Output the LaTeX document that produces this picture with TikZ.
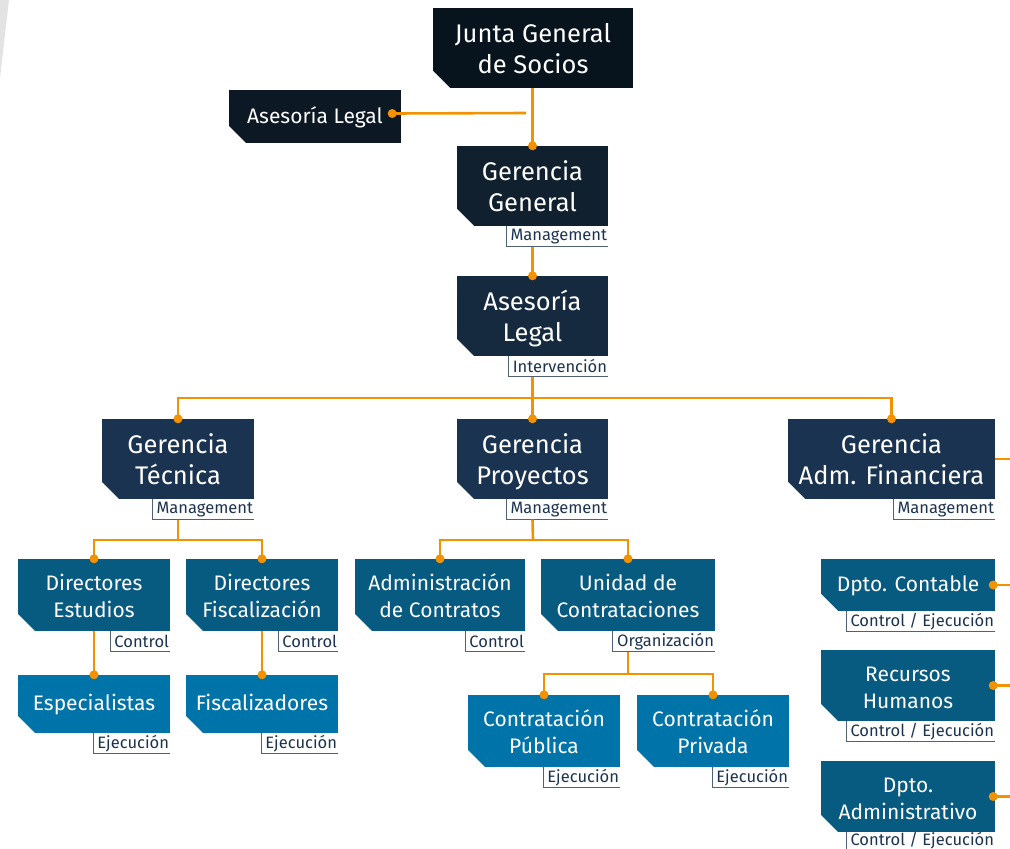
\documentclass[tikz,border=0pt]{standalone}
\usepackage{fontspec}
\setmainfont{Fira Sans}
\usetikzlibrary{calc}
\definecolor{tone0}{HTML}{08141D}
\definecolor{tone1}{HTML}{0C1824}
\definecolor{tone2}{HTML}{10202E}
\definecolor{tone3}{HTML}{152A3F}
\definecolor{tone4}{HTML}{1A3350}
\definecolor{tone5}{HTML}{075A80}
\definecolor{tone6}{HTML}{0073A8}
\definecolor{linkorange}{HTML}{F39200}
\definecolor{tagnavy}{HTML}{1B3350}
\definecolor{tagedge}{HTML}{4F6275}
\newcommand{\tallfirst}[1][7.5pt]{\rule{0pt}{\dimexpr0.7\baselineskip+#1\relax}}

\begin{document}
\begin{tikzpicture}[x=1pt,y=-1pt,
	unit/.style={inner sep=0pt,align=center,text=white,execute at end node=\strut,
		path picture={\fill[white] ([shift={(-1pt,-1pt)}]path picture bounding box.south west)--++(19pt,0)--++(-19pt,19pt)--cycle;}},
	big/.style={font=\fontsize{25.5}{31.5}\selectfont},
	mid/.style={font=\fontsize{21}{27}\selectfont},
	tag/.style={anchor=north east,inner xsep=4pt,inner ysep=0pt,minimum height=20,text=tagnavy,font=\fontsize{16.5}{18}\selectfont},
	tagline/.style={draw=tagedge,line width=1.1pt},
	link/.style={draw=linkorange,line width=2.6pt}]
	\useasboundingbox (0,0) rectangle (1010,849);
	\fill[gray!22] (0,0)--(9,0)--(0,78)--cycle;
	
	%TOP
	\node[unit,big,fill=tone0,minimum width=200,minimum height=80] (junta) at (533,48) {\tallfirst Junta General\\de Socios};
	\node[unit,fill=tone1,minimum width=172,minimum height=53,font=\fontsize{21}{27}\selectfont] (aslat) at (315,116.5) {\tallfirst[3pt]Asesoría Legal};
	\node[unit,big,fill=tone2,minimum width=151,minimum height=80] (gg) at (532.5,186) {\tallfirst Gerencia\\General};
	\node[unit,big,fill=tone3,minimum width=151,minimum height=80] (al) at (532.5,316) {\tallfirst Asesoría\\Legal};
	%
	\node[tag] (tgg) at ([xshift=3pt]gg.south east) {Management};
	\node[tag] (tal) at ([xshift=3pt]al.south east) {Intervención};
	
	%GERENCIAS
	\node[unit,big,fill=tone4,minimum width=152,minimum height=80] (gt) at (178,459) {\tallfirst Gerencia\\Técnica};
	\node[unit,big,fill=tone4,minimum width=151,minimum height=80] (gp) at (532.5,459) {\tallfirst Gerencia\\Proyectos};
	\node[unit,big,fill=tone4,minimum width=207,minimum height=80] (gaf) at (891.5,459) {\tallfirst Gerencia\\Adm. Financiera};
	%
	\node[tag] (tgt) at ([xshift=3pt]gt.south east) {Management};
	\node[tag] (tgp) at ([xshift=3pt]gp.south east) {Management};
	\node[tag] (tgaf) at ([xshift=3pt]gaf.south east) {Management};
	
	%DIRECTORES
	\node[unit,mid,fill=tone5,minimum width=152,minimum height=72] (de) at (94,595) {\tallfirst Directores\\Estudios};
	\node[unit,mid,fill=tone5,minimum width=152,minimum height=72] (df) at (262,595) {\tallfirst Directores\\Fiscalización};
	\node[unit,mid,fill=tone5,minimum width=170,minimum height=72] (ac) at (440,595) {\tallfirst Administración\\de Contratos};
	\node[unit,mid,fill=tone5,minimum width=174,minimum height=72] (uc) at (628,595) {\tallfirst Unidad de\\Contrataciones};
	%
	\node[tag] (tde) at ([xshift=3pt]de.south east) {Control};
	\node[tag] (tdf) at ([xshift=3pt]df.south east) {Control};
	\node[tag] (tac) at ([xshift=3pt]ac.south east) {Control};
	\node[tag] (tuc) at ([xshift=3pt]uc.south east) {Organización};
	
	%EJECUCION
	\node[unit,mid,fill=tone6,minimum width=152,minimum height=58] (es) at (94,704) {\tallfirst[3pt]Especialistas};
	\node[unit,mid,fill=tone6,minimum width=152,minimum height=58] (fi) at (262,704) {\tallfirst[3pt]Fiscalizadores};
	\node[unit,mid,fill=tone6,minimum width=152,minimum height=72] (cpu) at (544,731) {\tallfirst Contratación\\Pública};
	\node[unit,mid,fill=tone6,minimum width=152,minimum height=72] (cpr) at (713,731) {\tallfirst Contratación\\Privada};
	%
	\node[tag] (tes) at ([xshift=3pt]es.south east) {Ejecución};
	\node[tag] (tfi) at ([xshift=3pt]fi.south east) {Ejecución};
	\node[tag] (tcpu) at ([xshift=3pt]cpu.south east) {Ejecución};
	\node[tag] (tcpr) at ([xshift=3pt]cpr.south east) {Ejecución};
	
	%DEPARTAMENTOS
	\node[unit,mid,fill=tone5,minimum width=174,minimum height=52] (dc) at (908,585) {\tallfirst[3pt]Dpto. Contable};
	\node[unit,mid,fill=tone5,minimum width=174,minimum height=71] (rh) at (908,685.5) {\tallfirst Recursos\\Humanos};
	\node[unit,mid,fill=tone5,minimum width=174,minimum height=71] (da) at (908,796.5) {\tallfirst Dpto.\\Administrativo};
	%
	\node[tag] (tdc) at ([xshift=3pt]dc.south east) {Control / Ejecución};
	\node[tag] (trh) at ([xshift=3pt]rh.south east) {Control / Ejecución};
	\node[tag] (tda) at ([xshift=3pt,yshift=2pt]da.south east) {Control / Ejecución};
	
	%TAG EDGES
	\foreach \t/\b in {tgg/gg,tal/al,tgt/gt,tgp/gp,tgaf/gaf,tde/de,tdf/df,tac/ac,tuc/uc,tes/es,tfi/fi,tcpu/cpu,tcpr/cpr,tdc/dc,trh/rh,tda/da}
		\draw[tagline] (\t.north west |- \b.south)|-(\t.south -| \b.east);
	
	%CONNECTORS
	\coordinate (rim) at (1012,0);
	\coordinate (aldot) at ([xshift=-9pt,yshift=3pt]aslat.east);
	\coordinate (alend) at (526,113);
	\coordinate (busA) at (533,398);
	\coordinate (busT) at (178,540);
	\coordinate (busP) at (533,540);
	\coordinate (busU) at (628,674);
	%
	\draw[link] (gg.north |- junta.south)--(gg.north);
	\draw[link] (aldot)--(alend);
	\draw[link] (tgg.south -| al.north)--(al.north);
	\draw[link] (tal.south -| gp.north)--(gp.north);
	\draw[link] (gt.north)|-(busA)-|(gaf.north);
	%
	\draw[link] (tgt.south -| gt.south)--(busT);
	\draw[link] (de.north)|-(busT)-|(df.north);
	\draw[link] (de.south)--(es.north);
	\draw[link] (df.south)--(fi.north);
	%
	\draw[link] (tgp.south -| gp.south)--(busP);
	\draw[link] (ac.north)|-(busP)-|(uc.north);
	\draw[link] (tuc.south -| uc.south)--(busU);
	\draw[link] (cpu.north)|-(busU)-|(cpr.north);
	%
	\draw[link] (gaf.east)--(gaf.east -| rim);
	\foreach \d in {dc,rh,da}
		\draw[link] ([xshift=-2pt]\d.east)--(\d.east -| rim);
	
	%DOTS
	\foreach \p in {gg.north,al.north,gt.north,gp.north,gaf.north,de.north,df.north,es.north,fi.north,ac.north,uc.north,cpu.north,cpr.north,aldot}
		\fill[linkorange] (\p) circle (4.5pt);
	\foreach \d in {dc,rh,da}
		\fill[linkorange] ([xshift=-2pt]\d.east) circle (4.5pt);
\end{tikzpicture}
\end{document}
